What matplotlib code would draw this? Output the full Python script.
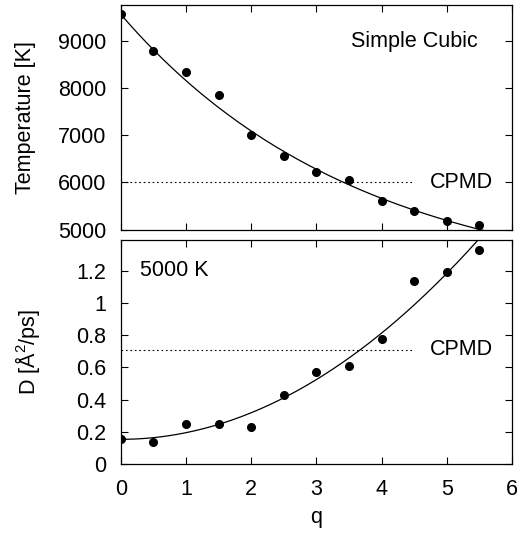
import numpy as np
import matplotlib
matplotlib.use('Agg')
import matplotlib.pyplot as plt
from matplotlib.ticker import FuncFormatter

plt.rcParams['font.family'] = ['Liberation Sans', 'DejaVu Sans']
plt.rcParams['mathtext.fontset'] = 'custom'
plt.rcParams['mathtext.rm'] = 'Liberation Sans'
plt.rcParams['mathtext.it'] = 'Liberation Sans:italic'

# q の値
q = [0.0, 0.5, 1.0, 1.5, 2.0, 2.5, 3.0, 3.5, 4.0, 4.5, 5.0, 5.5]
# 融解温度 (Simple Cubic)
temperature = [9575, 8800, 8355, 7865, 7015, 6555, 6215, 6060, 5610, 5385, 5185, 5105]
# 5000 K での拡散係数
diffusion = [0.153, 0.135, 0.248, 0.250, 0.228, 0.427, 0.570, 0.611, 0.774, 1.135, 1.190, 1.327]

cpmd_temperature = 6000
cpmd_diffusion = 0.71

# 温度のフィット: T = T_inf + (T0 - T_inf) exp(-q / tau)
t_fit_t0 = 9574
t_fit_tinf = 3706
t_fit_tau = 3.64

q = np.array(q)
temperature = np.array(temperature)
diffusion = np.array(diffusion)

# 拡散係数のフィット: D = a + b q^2
A = np.vstack([np.ones_like(q), q ** 2]).T
d_coef = np.linalg.lstsq(A, diffusion, rcond=None)[0]
qq = np.linspace(0, 6, 300)
t_fit = t_fit_tinf + (t_fit_t0 - t_fit_tinf) * np.exp(-qq / t_fit_tau)
d_fit = d_coef[0] + d_coef[1] * qq ** 2

fig = plt.figure(figsize=(5.17, 5.33), dpi=100)
ax1 = fig.add_axes([0.2335, 0.5694, 0.757, 0.4212])
ax2 = fig.add_axes([0.2335, 0.1295, 0.757, 0.4203])

fs = 15.5
for ax in (ax1, ax2):
    ax.set_xlim(0, 6)
    ax.tick_params(direction='in', top=True, right=True, length=5, width=0.8,
                   labelsize=fs, pad=10.5)
    for s in ax.spines.values():
        s.set_linewidth(0.9)

# 上段: 温度
ax1.plot(qq, t_fit, color='black', lw=0.9)
ax1.plot(q, temperature, 'o', color='black', ms=5.5)
ax1.plot([0, 4.5], [cpmd_temperature] * 2, color='black', lw=0.8, linestyle=(0, (1.5, 2.5)))
ax1.text(5.22, cpmd_temperature, 'CPMD', fontsize=fs, ha='center', va='center')
ax1.text(4.5, 8990, 'Simple Cubic', fontsize=fs, ha='center', va='center')
ax1.set_ylim(5000, 9770)
ax1.set_yticks([5000, 6000, 7000, 8000, 9000])
ax1.set_xticks(range(7))
ax1.tick_params(labelbottom=False)
ax1.set_ylabel('Temperature [K]', fontsize=fs, va='center')
ax1.yaxis.set_label_coords(-0.2445, 0.5)

# 下段: 拡散係数
ax2.plot(qq, d_fit, color='black', lw=0.9)
ax2.plot(q, diffusion, 'o', color='black', ms=5.5)
ax2.plot([0, 4.5], [cpmd_diffusion] * 2, color='black', lw=0.8, linestyle=(0, (1.5, 2.5)))
ax2.text(5.22, cpmd_diffusion, 'CPMD', fontsize=fs, ha='center', va='center')
ax2.text(0.3, 1.2, '5000 K', fontsize=fs, ha='left', va='center')
ax2.set_ylim(0, 1.39)
ax2.set_yticks(np.arange(0, 1.3, 0.2))
ax2.yaxis.set_major_formatter(FuncFormatter(lambda v, _: f'{v:g}'))
ax2.set_xticks(range(7))
ax2.set_xlabel('q', fontsize=fs, va='center')
ax2.xaxis.set_label_coords(0.5, -0.241)
ax2.set_ylabel('D [Å$^2$/ps]', fontsize=fs, va='center')
ax2.yaxis.set_label_coords(-0.237, 0.5)

plt.savefig('out.png', dpi=100)
